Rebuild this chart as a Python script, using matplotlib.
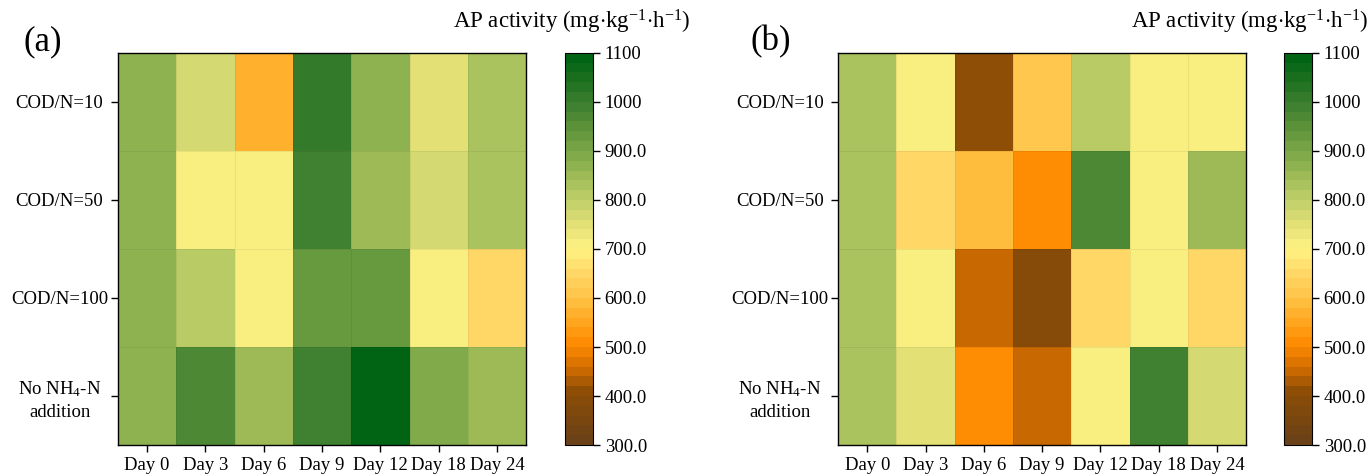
import matplotlib
matplotlib.use('Agg')
import matplotlib.pyplot as plt
import numpy as np
from matplotlib.colors import LinearSegmentedColormap

plt.rcParams['font.family'] = ['Liberation Serif', 'DejaVu Serif']
plt.rcParams['mathtext.fontset'] = 'custom'
plt.rcParams['mathtext.rm'] = 'Liberation Serif'
plt.rcParams['mathtext.it'] = 'Liberation Serif:italic'

days = ['Day 0', 'Day 3', 'Day 6', 'Day 9', 'Day 12', 'Day 18', 'Day 24']
groups = ['COD/N=10', 'COD/N=50', 'COD/N=100', 'No NH$_4$-N\naddition']

# AP activity, rows = groups, cols = days
ap_a = [
    [870, 770, 560, 1010, 870, 750, 830],
    [870, 700, 715, 980, 850, 770, 820],
    [870, 815, 715, 935, 935, 705, 650],
    [870, 960, 850, 985, 1080, 890, 850],
]
ap_b = [
    [835, 705, 410, 600, 800, 700, 700],
    [835, 640, 595, 500, 960, 715, 850],
    [835, 715, 455, 395, 650, 700, 650],
    [835, 750, 500, 455, 715, 985, 770],
]

cb_ticks = [300, 400, 500, 600, 700, 800, 900, 1000, 1100]
cb_labels = ['300.0', '400.0', '500.0', '600.0', '700.0', '800.0', '900.0', '1000', '1100']

vmin, vmax = 300, 1100
nodes = [
    (300, '#6b4217'), (400, '#8c4c06'), (450, '#d06c00'), (500, '#ff8a00'),
    (550, '#ffa820'), (600, '#ffc448'), (650, '#ffd868'), (700, '#fff282'),
    (750, '#e4e076'), (800, '#c0d06a'), (850, '#a0bc58'), (900, '#7ea84a'),
    (950, '#5e943a'), (1000, '#3e8030'), (1050, '#1e7020'), (1100, '#006414'),
]
cmap = LinearSegmentedColormap.from_list(
    'ap', [((v - vmin) / (vmax - vmin), c) for v, c in nodes], N=40)

fig = plt.figure(figsize=(13.7, 4.76), dpi=100)

panels = [
    ('(a)', ap_a, [0.0861, 0.065, 0.298, 0.824], [0.4124, 0.065, 0.0204, 0.824], 0.017, 0.5036),
    ('(b)', ap_b, [0.6117, 0.065, 0.298, 0.824], [0.9372, 0.065, 0.0204, 0.824], 0.5475, 0.9985),
]

for lab, data, pos, cpos, lx, tx in panels:
    ax = fig.add_axes(pos)
    arr = np.array(data)
    mesh = ax.pcolormesh(arr, cmap=cmap, vmin=vmin, vmax=vmax,
                         edgecolor=(0, 0, 0, 0.06), linewidth=0.6)
    ax.set_xlim(0, len(days))
    ax.set_ylim(len(groups), 0)
    ax.set_xticks(np.arange(len(days)) + 0.5)
    ax.set_xticklabels(days, fontsize=13.5)
    ax.set_yticks(np.arange(len(groups)) + 0.5)
    ax.set_yticklabels(groups, fontsize=13.5, ha='center', multialignment='center',
                       linespacing=1.35)
    ax.tick_params(axis='y', pad=37, length=5, width=1)
    ax.tick_params(axis='x', length=5, width=1)
    for s in ax.spines.values():
        s.set_linewidth(1.0)
    fig.text(lx, 0.912, lab, fontsize=25, va='center')

    cax = fig.add_axes(cpos)
    cb = fig.colorbar(mesh, cax=cax)
    cb.set_ticks(cb_ticks)
    cb.set_ticklabels(cb_labels)
    cax.tick_params(labelsize=13.5, length=5, width=1)
    cb.outline.set_linewidth(0.8)
    fig.text(tx, 0.954,
             'AP activity (mg$\\cdot$kg$^{-1}$$\\cdot$h$^{-1}$)',
             fontsize=16.5, ha='right', va='center')

fig.savefig('out.png', dpi=100)
